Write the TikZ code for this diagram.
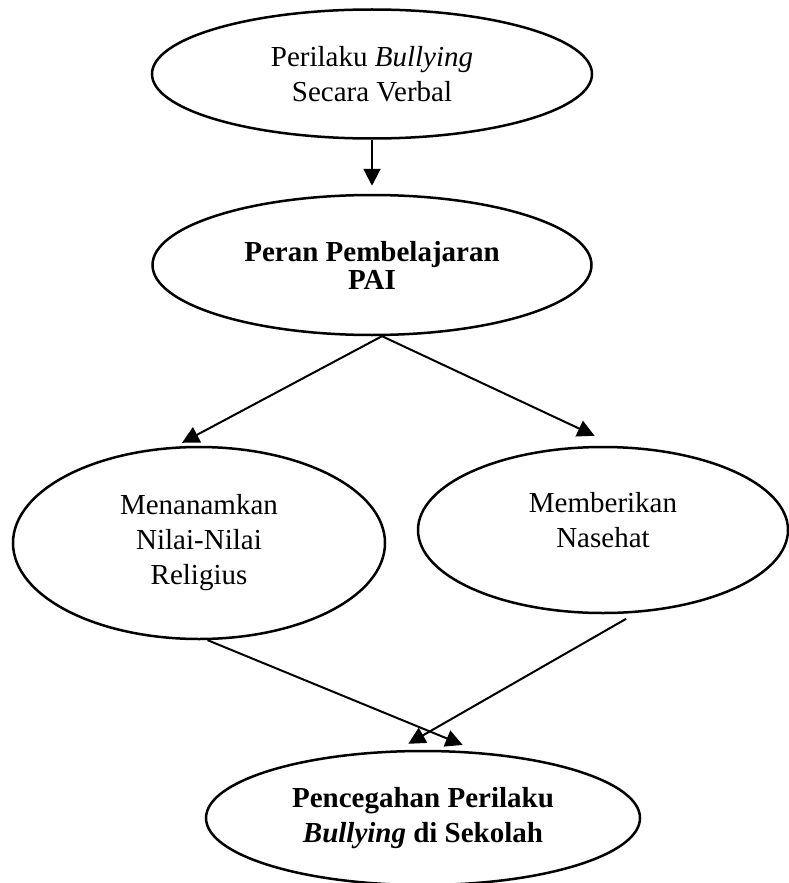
\documentclass[tikz,border=0pt]{standalone}
\usepackage{fontspec}
\setmainfont{Liberation Serif}
\usetikzlibrary{arrows.meta,shapes.geometric}

\begin{document}
\begin{tikzpicture}[
  x=0.5pt, y=-0.5pt, >={Triangle[length=8.5pt,width=8.5pt]},
  font=\fontsize{14.5}{17.5}\selectfont,
  oval/.style={draw, ellipse, line width=1.25pt, align=center, inner sep=0pt},
  flow/.style={->, line width=1pt},
]
  \useasboundingbox (0,0) rectangle (788,883);
  \node[oval, minimum width=220pt, minimum height=64.5pt] (verbal) at (372,74) {Perilaku \textit{Bullying}\\Secara Verbal};
  \node[oval, minimum width=219.5pt, minimum height=70pt, font=\fontsize{14.5}{17.5}\selectfont\bfseries] (peran) at (372,265) {Peran Pembelajaran\\[-3.5pt]PAI};
  \node[oval, minimum width=186pt, minimum height=96pt] (nilai) at (199,543) {Menanamkan\\Nilai-Nilai\\Religius};
  \node[oval, minimum width=185pt, minimum height=83pt, text depth=10pt] (nasehat) at (603,530) {Memberikan\\Nasehat};
  \node[oval, minimum width=217pt, minimum height=67pt, font=\fontsize{14.5}{17.5}\selectfont\bfseries] (cegah) at (423,818) {Pencegahan Perilaku\\\textit{Bullying} di Sekolah};
  \draw[flow, shorten >=4pt] (verbal.south) -- (peran.north);
  \draw[flow, shorten >=4pt] (peran.-82) -- (nilai.104);
  \draw[flow, shorten >=12pt] (peran.-82) -- (nasehat.81);
  \draw[flow, shorten >=9.5pt] (nilai.-85) -- (cegah.49);
  \draw[flow, shorten <=6pt, shorten >=6.5pt] (nasehat.-68) -- (cegah.111);
\end{tikzpicture}
\end{document}
